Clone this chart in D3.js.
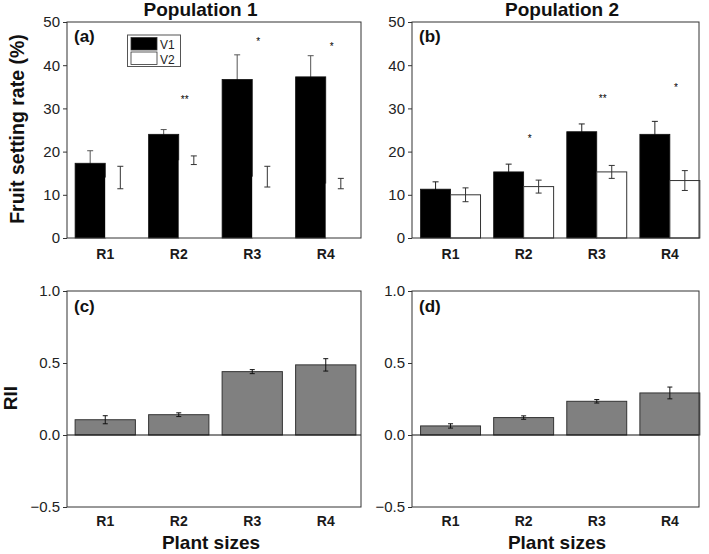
<!DOCTYPE html>
<html>
<head>
<meta charset="utf-8">
<script src="https://cdn.jsdelivr.net/npm/d3@7/dist/d3.min.js"></script>
<style>
  html, body { margin: 0; padding: 0; background: #fff; }
  svg { display: block; font-family: "Liberation Sans", Arial, sans-serif; }
  .star { opacity: 0.99; }
</style>
</head>
<body>
<svg id="chart" width="709" height="554"></svg>
<script>
// ---------- data ----------
const categories = ["R1", "R2", "R3", "R4"];
const seriesNames = ["V1", "V2"];

const pop1V1 = [17.3, 24.0, 36.7, 37.3];
const pop1V1Err = [2.9, 1.1, 5.7, 4.9];
const pop1V2 = [14.0, 18.0, 14.2, 12.6];
const pop1V2Err = [2.6, 1.0, 2.4, 1.2];

const pop2V1 = [11.3, 15.3, 24.6, 24.0];
const pop2V1Err = [1.7, 1.8, 1.8, 3.0];
const pop2V2 = [10.0, 11.9, 15.3, 13.3];
const pop2V2Err = [1.6, 1.5, 1.5, 2.3];

const pop1Sig = ["", "**", "*", "*"];
const pop1SigY = [null, 32.6, 46.0, 44.8];
const pop2Sig = ["", "*", "**", "*"];
const pop2SigY = [null, 23.6, 32.7, 35.2];

const rii1 = [0.106, 0.141, 0.440, 0.487];
const rii1Err = [0.028, 0.013, 0.014, 0.043];
const rii2 = [0.063, 0.121, 0.234, 0.292];
const rii2Err = [0.015, 0.012, 0.012, 0.041];

const fruitTicks = [0, 10, 20, 30, 40, 50];
const riiTicks = [-0.5, 0.0, 0.5, 1.0];

const titles = ["Population 1", "Population 2"];
const panelLabels = ["(a)", "(b)", "(c)", "(d)"];

// ---------- layout ----------
const svg = d3.select("#chart");
const font = '"Liberation Sans", Arial, sans-serif';
const cols = [
  { x0: 67, x1: 361, band: [68.5, 362.5], titleX: 200.5, xlabX: 211 },
  { x0: 412, x1: 699, band: [414, 706.4], titleX: 562, xlabX: 557 }
];
const rows = [
  { y0: 22, y1: 238 },
  { y0: 291, y1: 507 }
];

function frame(g, col, row) {
  g.append("rect")
    .attr("x", col.x0).attr("y", row.y0)
    .attr("width", col.x1 - col.x0).attr("height", row.y1 - row.y0)
    .attr("fill", "none").attr("stroke", "#333").attr("stroke-width", 1);
}

function yAxis(g, col, y, ticks, fmt) {
  const ax = d3.axisLeft(y).tickValues(ticks).tickSize(4).tickSizeOuter(0).tickPadding(3).tickFormat(fmt);
  const a = g.append("g").attr("transform", `translate(${col.x0},0)`).call(ax);
  a.select(".domain").remove();
  a.selectAll("line").attr("stroke", "#333");
  a.selectAll("text").attr("font-size", 15).attr("fill", "#222").attr("font-family", font);
}

function xLabels(g, x, baseY) {
  g.selectAll("text.cat").data(categories).join("text")
    .attr("class", "cat")
    .attr("x", d => x(d) + x.bandwidth() / 2)
    .attr("y", baseY)
    .attr("text-anchor", "middle")
    .attr("font-size", 14).attr("font-weight", "bold").attr("fill", "#1a1a1a")
    .text(d => d);
}

function errBar(g, cx, yTop, yBot, half, color) {
  g.append("line").attr("x1", cx).attr("x2", cx).attr("y1", yTop).attr("y2", yBot)
    .attr("stroke", color).attr("stroke-width", 1);
  g.append("line").attr("x1", cx - half).attr("x2", cx + half).attr("y1", yTop).attr("y2", yTop)
    .attr("stroke", color).attr("stroke-width", 1);
  g.append("line").attr("x1", cx - half).attr("x2", cx + half).attr("y1", yBot).attr("y2", yBot)
    .attr("stroke", color).attr("stroke-width", 1);
}

// ---------- fruit setting panels ----------
const fruitPanels = [
  { col: cols[0], v1: pop1V1, e1: pop1V1Err, v2: pop1V2, e2: pop1V2Err, sig: pop1Sig, sigY: pop1SigY, v2Stroke: "none", errV1: "#555", label: panelLabels[0], title: titles[0] },
  { col: cols[1], v1: pop2V1, e1: pop2V1Err, v2: pop2V2, e2: pop2V2Err, sig: pop2Sig, sigY: pop2SigY, v2Stroke: "#333", errV1: "#222", label: panelLabels[1], title: titles[1] }
];

fruitPanels.forEach((p, i) => {
  const row = rows[0];
  const g = svg.append("g");
  const x = d3.scaleBand().domain(categories).range(p.col.band).paddingInner(0.18).paddingOuter(0.09);
  const xs = d3.scaleBand().domain(seriesNames).range([0, x.bandwidth()]);
  const y = d3.scaleLinear().domain([0, 50]).range([row.y1, row.y0]);

  categories.forEach((c, k) => {
    const cx = x(c) + xs("V1") + xs.bandwidth() / 2;
    errBar(g, cx, y(p.v1[k] + p.e1[k]), y(p.v1[k] - p.e1[k]), 3, p.errV1);
  });
  g.selectAll("rect.v1").data(categories).join("rect")
    .attr("class", "v1")
    .attr("x", d => x(d) + xs("V1"))
    .attr("width", xs.bandwidth())
    .attr("y", (d, k) => y(p.v1[k]))
    .attr("height", (d, k) => y(0) - y(p.v1[k]))
    .attr("fill", "#000").attr("stroke", "#111").attr("stroke-width", 0.8);
  g.selectAll("rect.v2").data(categories).join("rect")
    .attr("class", "v2")
    .attr("x", d => x(d) + xs("V2"))
    .attr("width", xs.bandwidth())
    .attr("y", (d, k) => y(p.v2[k]))
    .attr("height", (d, k) => y(0) - y(p.v2[k]))
    .attr("fill", "#fff").attr("stroke", p.v2Stroke).attr("stroke-width", 1);
  categories.forEach((c, k) => {
    const cx = x(c) + xs("V2") + xs.bandwidth() / 2;
    errBar(g, cx, y(p.v2[k] + p.e2[k]), y(p.v2[k] - p.e2[k]), 3, "#333");
  });
  categories.forEach((c, k) => {
    if (!p.sig[k]) return;
    g.append("text")
      .attr("class", "star")
      .attr("x", x(c) + x.bandwidth() / 2 + 6)
      .attr("y", y(p.sigY[k]) + 5.5)
      .attr("text-anchor", "middle")
      .attr("font-size", 10).attr("fill", "#000")
      .text(p.sig[k]);
  });

  frame(g, p.col, row);
  yAxis(g, p.col, y, fruitTicks, d3.format("d"));
  xLabels(g, x, 259);

  g.append("text").attr("x", p.col.x0 + 7).attr("y", 41.5)
    .attr("font-size", 17).attr("font-weight", "bold").attr("fill", "#111").text(p.label);
  g.append("text").attr("x", p.col.titleX).attr("y", 15.5)
    .attr("text-anchor", "middle")
    .attr("font-size", 19).attr("font-weight", "bold").attr("fill", "#111").text(p.title);
});

// legend in (a)
const leg = svg.append("g");
leg.append("rect").attr("x", 127.5).attr("y", 35).attr("width", 53).attr("height", 31.5)
  .attr("fill", "#fff").attr("stroke", "#555").attr("stroke-width", 1);
const legendFill = ["#000", "#fff"];
seriesNames.forEach((s, k) => {
  leg.append("rect").attr("x", 131).attr("y", 37.5 + k * 14.5).attr("width", 26).attr("height", 12.5)
    .attr("fill", legendFill[k]).attr("stroke", "#333").attr("stroke-width", 0.8);
  leg.append("text").attr("x", 160).attr("y", 49 + k * 14.5)
    .attr("font-size", 12).attr("fill", "#222").text(s);
});

svg.append("text")
  .attr("transform", `translate(24,129) rotate(-90)`)
  .attr("text-anchor", "middle")
  .attr("font-size", 19.5).attr("font-weight", "bold").attr("fill", "#111")
  .text("Fruit setting rate (%)");

// ---------- RII panels ----------
const riiPanels = [
  { col: cols[0], v: rii1, e: rii1Err, label: panelLabels[2] },
  { col: cols[1], v: rii2, e: rii2Err, label: panelLabels[3] }
];

riiPanels.forEach(p => {
  const row = rows[1];
  const g = svg.append("g");
  const x = d3.scaleBand().domain(categories).range(p.col.band).paddingInner(0.18).paddingOuter(0.09);
  const y = d3.scaleLinear().domain([-0.5, 1.0]).range([row.y1, row.y0]);

  g.selectAll("rect.rii").data(categories).join("rect")
    .attr("class", "rii")
    .attr("x", d => x(d))
    .attr("width", x.bandwidth())
    .attr("y", (d, k) => y(Math.max(0, p.v[k])))
    .attr("height", (d, k) => Math.abs(y(0) - y(p.v[k])))
    .attr("fill", "#808080").attr("stroke", "#333").attr("stroke-width", 1);
  categories.forEach((c, k) => {
    const cx = x(c) + x.bandwidth() / 2;
    errBar(g, cx, y(p.v[k] + p.e[k]), y(p.v[k] - p.e[k]), 2.5, "#111");
  });
  g.append("line").attr("x1", p.col.x0).attr("x2", p.col.x1).attr("y1", y(0)).attr("y2", y(0))
    .attr("stroke", "#111").attr("stroke-width", 1);

  frame(g, p.col, row);
  yAxis(g, p.col, y, riiTicks, d3.format(".1f"));
  xLabels(g, x, 526);

  g.append("text").attr("x", p.col.x0 + 7).attr("y", 311.5)
    .attr("font-size", 17).attr("font-weight", "bold").attr("fill", "#111").text(p.label);
  g.append("text").attr("x", p.col.xlabX).attr("y", 549)
    .attr("text-anchor", "middle")
    .attr("font-size", 19).attr("font-weight", "bold").attr("fill", "#111").text("Plant sizes");
});

svg.append("text")
  .attr("transform", `translate(17,398) rotate(-90)`)
  .attr("text-anchor", "middle")
  .attr("font-size", 19).attr("font-weight", "bold").attr("fill", "#111")
  .text("RII");
</script>
</body>
</html>
